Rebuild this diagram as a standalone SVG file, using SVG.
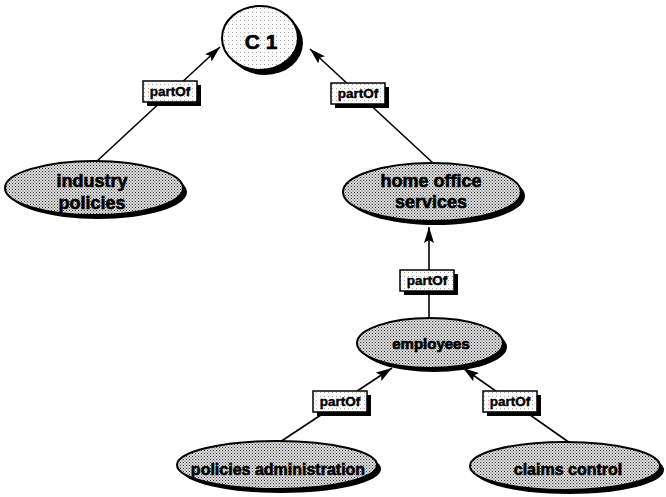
<svg xmlns="http://www.w3.org/2000/svg" width="666" height="497" viewBox="0 0 666 497">
<defs>
<pattern id="dots" width="3" height="3" patternUnits="userSpaceOnUse">
<rect width="3" height="3" fill="#dcdcdc"/>
<rect x="0" y="0" width="1" height="1" fill="#333"/>
<rect x="1.5" y="1.5" width="1" height="1" fill="#555"/>
</pattern>
<pattern id="light" width="4" height="4" patternUnits="userSpaceOnUse">
<rect width="4" height="4" fill="#fbfbfb"/>
<rect x="0" y="0" width="1" height="1" fill="#aaa"/>
</pattern>
<marker id="arr" viewBox="0 0 16 10" refX="16" refY="5" markerWidth="16" markerHeight="10" markerUnits="userSpaceOnUse" orient="auto">
<path d="M0,0 L16,5 L0,10 L3,5 Z" fill="#000"/>
</marker>
</defs>
<style>
.shadow{fill:#000}
.node{fill:url(#dots);stroke:#000;stroke-width:2}
.root{fill:url(#light);stroke:#000;stroke-width:2}
.lbl{font-family:"Liberation Sans",Arial,sans-serif;font-weight:bold;fill:#000;text-anchor:middle;stroke:#000;stroke-width:0.6}
.edge{stroke:#000;stroke-width:1.6;fill:none}
.tag{fill:url(#light);stroke:#000;stroke-width:1.5}
.tagtxt{font-family:"Liberation Sans",Arial,sans-serif;font-weight:bold;font-size:13.5px;fill:#000;text-anchor:middle;stroke:#000;stroke-width:0.4}
</style>
<rect width="666" height="497" fill="#fff"/>
<g id="connectors">
<line class="edge" x1="96" y1="162" x2="220" y2="47" marker-end="url(#arr)"/>
<line class="edge" x1="433" y1="163" x2="310" y2="49" marker-end="url(#arr)"/>
<line class="edge" x1="429" y1="318" x2="429" y2="227" marker-end="url(#arr)"/>
<line class="edge" x1="280" y1="442" x2="392" y2="368" marker-end="url(#arr)"/>
<line class="edge" x1="570" y1="443" x2="463" y2="368" marker-end="url(#arr)"/>
<g id="tag1"><rect class="shadow" x="147" y="85" width="54" height="21"/><rect class="tag" x="143" y="81" width="54" height="21"/><text class="tagtxt" x="170" y="96">partOf</text></g>
<g id="tag2"><rect class="shadow" x="335" y="87" width="54" height="21"/><rect class="tag" x="331" y="83" width="54" height="21"/><text class="tagtxt" x="358" y="98">partOf</text></g>
<g id="tag3"><rect class="shadow" x="404" y="274" width="54" height="21"/><rect class="tag" x="400" y="270" width="54" height="21"/><text class="tagtxt" x="427" y="285">partOf</text></g>
<g id="tag4"><rect class="shadow" x="317" y="395" width="54" height="21"/><rect class="tag" x="313" y="391" width="54" height="21"/><text class="tagtxt" x="340" y="406">partOf</text></g>
<g id="tag5"><rect class="shadow" x="487" y="395" width="54" height="21"/><rect class="tag" x="483" y="391" width="54" height="21"/><text class="tagtxt" x="510" y="406">partOf</text></g>
</g>
<g id="c1">
<ellipse class="shadow" cx="265" cy="43" rx="38" ry="32"/>
<ellipse class="root" cx="260" cy="38" rx="38" ry="32"/>
<text class="lbl" x="261" y="49" font-size="21">C 1</text>
</g>
<g id="industry-policies">
<ellipse class="shadow" cx="98" cy="192" rx="89" ry="27"/>
<ellipse class="node" cx="94" cy="188" rx="89" ry="27"/>
<text class="lbl" x="92" y="187" font-size="18">industry</text>
<text class="lbl" x="92" y="209" font-size="18">policies</text>
</g>
<g id="home-office-services">
<ellipse class="shadow" cx="436" cy="196" rx="89" ry="29"/>
<ellipse class="node" cx="432" cy="192" rx="89" ry="29"/>
<text class="lbl" x="431" y="187" font-size="18">home office</text>
<text class="lbl" x="431" y="208" font-size="18">services</text>
</g>
<g id="employees">
<ellipse class="shadow" cx="434" cy="347" rx="73" ry="25"/>
<ellipse class="node" cx="430" cy="343" rx="73" ry="25"/>
<text class="lbl" x="431" y="349" font-size="15">employees</text>
</g>
<g id="policies-administration">
<ellipse class="shadow" cx="281" cy="469" rx="100" ry="24"/>
<ellipse class="node" cx="277" cy="465" rx="100" ry="24"/>
<text class="lbl" x="278" y="475" font-size="16">policies administration</text>
</g>
<g id="claims-control">
<ellipse class="shadow" cx="569" cy="470" rx="95" ry="24"/>
<ellipse class="node" cx="565" cy="466" rx="95" ry="24"/>
<text class="lbl" x="568" y="475" font-size="16">claims control</text>
</g>
</svg>
